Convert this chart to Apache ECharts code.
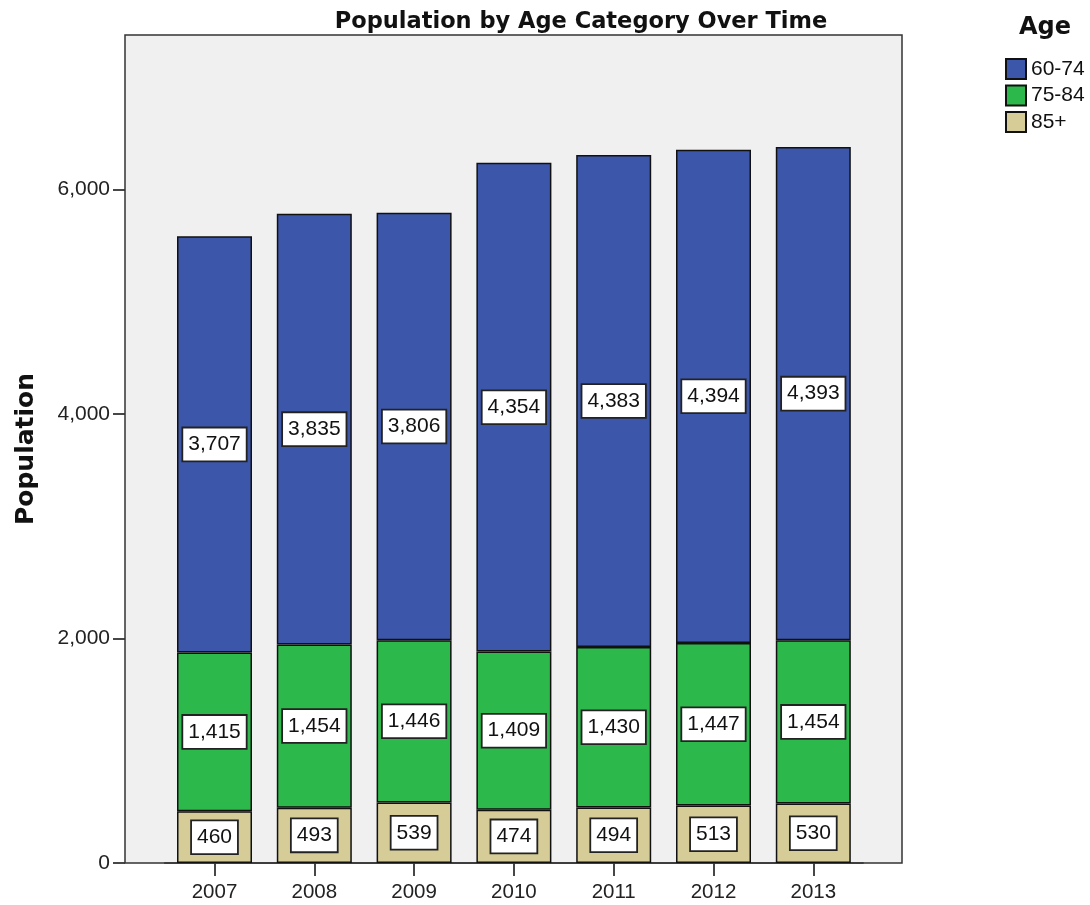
<!DOCTYPE html>
<html>
<head>
<meta charset="utf-8">
<script src="https://cdn.jsdelivr.net/npm/echarts@6/dist/echarts.min.js"></script>
<style>
html,body{margin:0;padding:0;background:#fff;}
#chart{width:1090px;height:905px;}
</style>
</head>
<body>
<div id="chart"></div>
<script>
const years = ['2007','2008','2009','2010','2011','2012','2013'];
const age85plus = [460, 493, 539, 474, 494, 513, 530];
const age75to84 = [1415, 1454, 1446, 1409, 1430, 1447, 1454];
const age60to74 = [3707, 3835, 3806, 4354, 4383, 4394, 4393];
const yTicks = [0, 2000, 4000, 6000];
const seriesNames = ['60-74', '75-84', '85+'];

const FONT = '"Liberation Sans", Arial, sans-serif';
const BOLDFONT = '"DejaVu Sans", Verdana, sans-serif';
const fmt = v => Number(v).toLocaleString('en-US');

const labelStyle = {
  show: true,
  position: 'inside',
  formatter: p => fmt(p.value),
  backgroundColor: '#ffffff',
  borderColor: '#222',
  borderWidth: 1.8,
  padding: [6, 5, 4, 5],
  fontSize: 21,
  lineHeight: 22,
  color: '#111',
  fontFamily: FONT
};

const chart = echarts.init(document.getElementById('chart'), null, {renderer: 'canvas'});
chart.setOption({
  animation: false,
  title: [
    {
      text: 'Population by Age Category Over Time',
      left: 576, top: 6, textAlign: 'center',
      textStyle: {fontSize: 22.5, fontWeight: 'bold', color: '#111', fontFamily: BOLDFONT}
    },
    {
      text: 'Age',
      left: 1040, top: 11, textAlign: 'center',
      textStyle: {fontSize: 24, fontWeight: 'bold', color: '#111', fontFamily: BOLDFONT}
    }
  ],
  legend: {
    data: seriesNames,
    orient: 'vertical',
    left: 1005, top: 58, padding: 0,
    itemWidth: 20, itemHeight: 20, itemGap: 4.5,
    icon: 'rect',
    textStyle: {fontSize: 21, lineHeight: 20, color: '#111', fontFamily: FONT}
  },
  grid: [
    {left: 125, top: 35, width: 777, height: 828, show: true,
     backgroundColor: '#F0F0F0', borderColor: '#333', borderWidth: 1.5},
    {left: 164.6, top: 35, width: 698.6, height: 828}
  ],
  xAxis: [
    {gridIndex: 0, type: 'value', show: false},
    {gridIndex: 1, type: 'category', data: years,
     axisLine: {show: true, lineStyle: {color: '#333', width: 1.5}},
     axisTick: {show: true, alignWithLabel: true, length: 13, lineStyle: {color: '#333', width: 1.8}},
     axisLabel: {fontSize: 20.5, color: '#222', margin: 19, fontFamily: FONT}}
  ],
  yAxis: [
    {gridIndex: 0, type: 'value', show: false},
    {gridIndex: 1, type: 'value', min: 0, max: 7375, offset: 39.6,
     name: 'Population', nameLocation: 'middle', nameGap: 86,
     nameTextStyle: {fontSize: 25, fontWeight: 'bold', color: '#111', fontFamily: BOLDFONT},
     axisLine: {show: false},
     axisTick: {show: true, length: 12, customValues: yTicks, lineStyle: {color: '#333', width: 1.8}},
     axisLabel: {fontSize: 21, color: '#222', margin: 15, customValues: yTicks, formatter: v => fmt(v), fontFamily: FONT},
     splitLine: {show: false}}
  ],
  series: [
    {name: '85+', type: 'bar', stack: 'age', xAxisIndex: 1, yAxisIndex: 1, barWidth: 75,
     data: age85plus, itemStyle: {color: '#D5CC98', borderColor: '#111', borderWidth: 1.5}, label: labelStyle},
    {name: '75-84', type: 'bar', stack: 'age', xAxisIndex: 1, yAxisIndex: 1, barWidth: 75,
     data: age75to84, itemStyle: {color: '#2DB84B', borderColor: '#111', borderWidth: 1.5}, label: labelStyle},
    {name: '60-74', type: 'bar', stack: 'age', xAxisIndex: 1, yAxisIndex: 1, barWidth: 75,
     data: age60to74, itemStyle: {color: '#3C56AA', borderColor: '#111', borderWidth: 1.5}, label: labelStyle}
  ]
});
</script>
</body>
</html>
